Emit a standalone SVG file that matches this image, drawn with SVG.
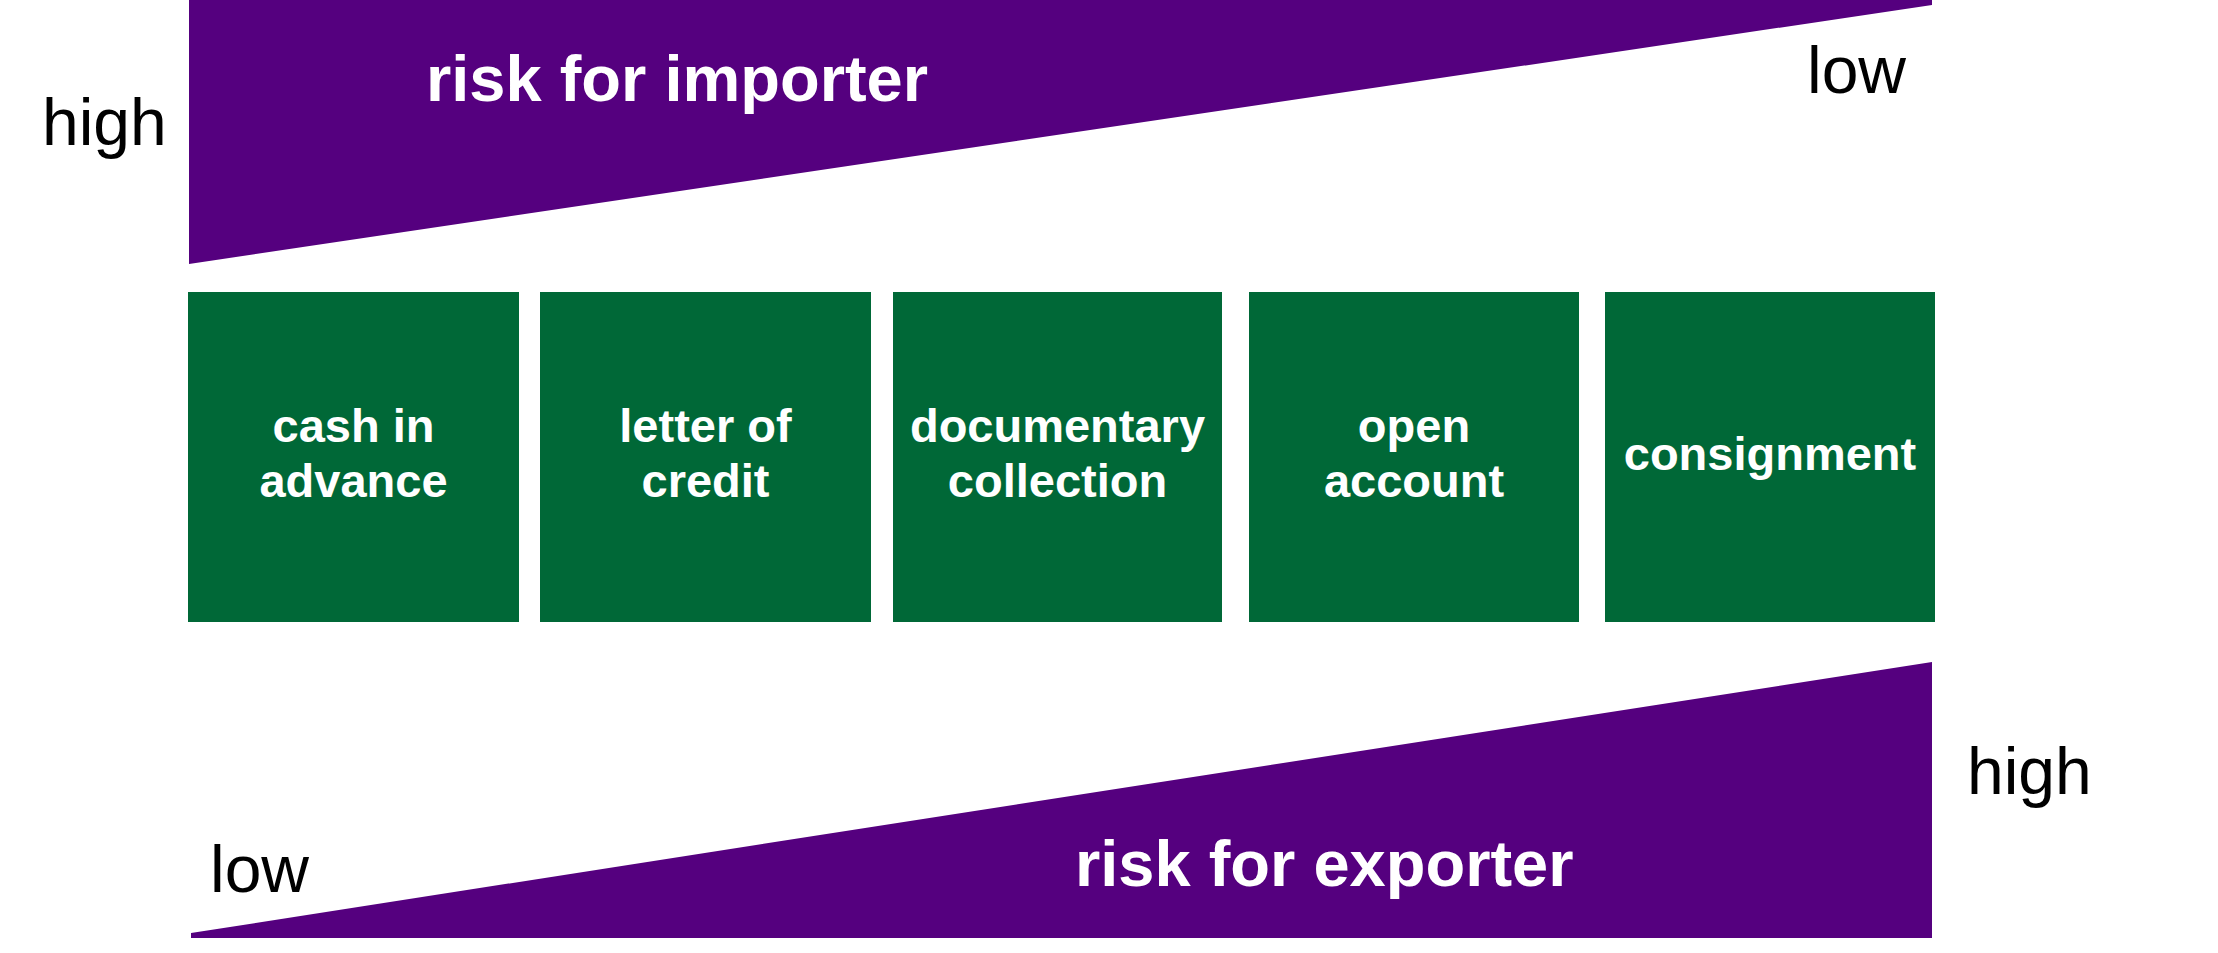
<svg xmlns="http://www.w3.org/2000/svg" width="2218" height="953" viewBox="0 0 2218 953">
<style>
.band{fill:#55007f}
.box{fill:#006837}
.title{font-family:"Liberation Sans",Arial,sans-serif;font-weight:bold;font-size:65px;fill:#ffffff}
.lbl{font-family:"Liberation Sans",Arial,sans-serif;font-weight:bold;font-size:47px;fill:#ffffff;text-anchor:middle}
.lvl{font-family:"Liberation Sans",Arial,sans-serif;font-size:66px;fill:#000000}
</style>
<rect width="2218" height="953" fill="#ffffff"/>
<g id="importer-risk">
<polygon class="band" points="189,0 1932,0 1932,5 189,264"/>
<text class="title" x="426" y="101">risk for importer</text>
<text class="lvl" x="42" y="145">high</text>
<text class="lvl" x="1807" y="93">low</text>
</g>
<g id="exporter-risk">
<polygon class="band" points="191,933 1932,662 1932,938 191,938"/>
<text class="title" x="1075" y="886">risk for exporter</text>
<text class="lvl" x="210" y="892">low</text>
<text class="lvl" x="1967" y="794">high</text>
</g>
<g id="cash-in-advance">
<rect class="box" x="188" y="292" width="331" height="330"/>
<text class="lbl" x="353.5" y="442">cash in</text>
<text class="lbl" x="353.5" y="497">advance</text>
</g>
<g id="letter-of-credit">
<rect class="box" x="540" y="292" width="331" height="330"/>
<text class="lbl" x="705.5" y="442">letter of</text>
<text class="lbl" x="705.5" y="497">credit</text>
</g>
<g id="documentary-collection">
<rect class="box" x="893" y="292" width="329" height="330"/>
<text class="lbl" x="1057.5" y="442">documentary</text>
<text class="lbl" x="1057.5" y="497">collection</text>
</g>
<g id="open-account">
<rect class="box" x="1249" y="292" width="330" height="330"/>
<text class="lbl" x="1414" y="442">open</text>
<text class="lbl" x="1414" y="497">account</text>
</g>
<g id="consignment">
<rect class="box" x="1605" y="292" width="330" height="330"/>
<text class="lbl" x="1770" y="470">consignment</text>
</g>
<g id="connectors"></g>
</svg>
